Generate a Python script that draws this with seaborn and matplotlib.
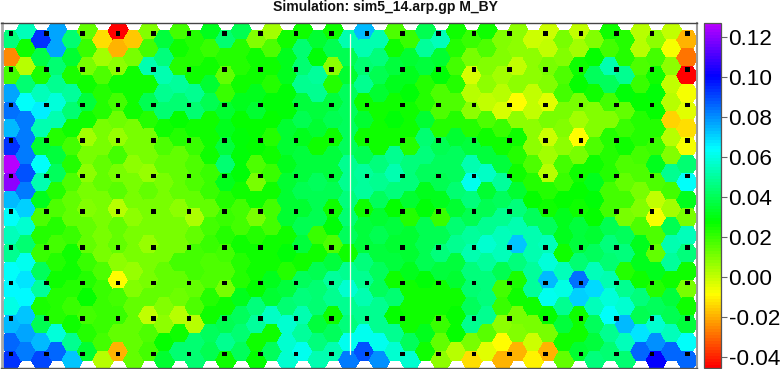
import matplotlib
matplotlib.use("Agg")
import matplotlib.pyplot as plt
from matplotlib.cm import ScalarMappable
from matplotlib.colors import ListedColormap, Normalize
import numpy as np
import pandas as pd
import seaborn as sns

sns.set_theme(style="white")
plt.rcParams["font.family"] = ["Liberation Sans", "DejaVu Sans"]

title = "Simulation: sim5_14.arp.gp M_BY"
tick_values = [-0.04, -0.02, 0.00, 0.02, 0.04, 0.06, 0.08, 0.10, 0.12]
tick_labels = ["-0.04", "-0.02", "0.00", "0.02", "0.04", "0.06", "0.08", "0.10", "0.12"]

# one list per hexagon column, top to bottom. odd columns sit half a row higher
col_00 = [.045, -.025, .018, .077, .084, .073, .093, .127, .120, .073, .063, .054, .048, .063, .065, .060, .074, .086, .093]
col_01 = [.054, .025, .002, .043, .063, .082, .082, .082, .088, .082, .070, .057, .043, .062, .068, .065, .072, .077, .082]
col_02 = [.093, .038, .024, .054, .066, .052, .034, .063, .052, .032, .016, .022, .020, .040, .050, .024, .039, .074, .090]
col_03 = [.077, .077, .043, .048, .059, .052, .023, .036, .040, .022, .016, .022, .018, .023, .025, .023, .023, .059, .086]
col_04 = [.043, .034, .024, .050, .043, .025, .018, .023, .016, .014, .014, .020, .025, .025, .023, .020, .025, .048, .072]
col_05 = [.013, .020, .011, .025, .036, .026, .004, .011, .007, .011, .009, .013, .014, .020, .023, .027, .018, .023, .034]
col_06 = [-.014, .004, .016, .023, .023, .011, .011, .013, .013, .010, .011, .010, .010, .016, .020, .020, .020, .018, .002]
col_07 = [-.045, -.020, .007, .025, .018, .012, .006, .018, .011, .015, .002, .013, .013, .008, -.009, .018, .020, .013, -.020]
col_08 = [-.017, .011, .025, .025, .025, .010, .010, .008, .011, .011, .008, .011, .011, .006, .009, .013, .013, .013, .013]
col_09 = [.009, .018, .052, .025, .039, .023, .010, .010, .006, .014, .010, .011, .006, .010, .010, .013, .000, .016, .018]
col_10 = [.036, .045, .052, .048, .043, .025, .016, .014, .011, .011, .010, .010, .011, .014, .014, .009, .007, .027, .034]
col_11 = [.018, .025, .023, .050, .043, .027, .023, .014, .014, .014, .008, .010, .011, .018, .014, .012, .002, .025, .043]
col_12 = [.023, .022, .025, .048, .043, .025, .020, .016, .016, .013, .003, .013, .018, .018, .014, .016, .002, .043, .043]
col_13 = [.032, .020, .025, .034, .039, .025, .025, .025, .020, .020, .013, .018, .020, .016, .016, .023, .025, .041, .039]
col_14 = [.043, .023, .013, .020, .034, .032, .036, .043, .032, .023, .020, .023, .018, .016, .011, .025, .039, .048, .025]
col_15 = [.039, .023, .023, .025, .032, .027, .029, .029, .029, .025, .018, .018, .025, .023, .023, .032, .041, .043, .041]
col_16 = [.009, .025, .025, .032, .034, .027, .027, .016, .011, .025, .011, .023, .025, .025, .027, .045, .050, .025, .027]
col_17 = [.004, .016, .025, .023, .029, .027, .023, .025, .020, .025, .018, .018, .025, .025, .032, .034, .055, .025, .041]
col_18 = [.025, .032, .032, .029, .029, .034, .034, .032, .034, .034, .034, .025, .029, .023, .036, .043, .057, .057, .057]
col_19 = [.025, .043, .043, .048, .036, .039, .032, .036, .036, .039, .034, .039, .036, .025, .041, .045, .052, .050, .061]
col_20 = [.034, .029, .050, .048, .036, .034, .025, .036, .041, .039, .039, .020, .025, .039, .043, .043, .036, .045, .052]
col_21 = [.025, .039, .007, .023, .036, .039, .025, .036, .036, .039, .025, .029, .016, .036, .050, .048, .025, .041, .052]
col_22 = [.052, .039, .034, .041, .041, .041, .041, .048, .048, .045, .043, .041, .025, .048, .057, .048, .045, .061, .082]
col_23 = [.074, .052, .043, .048, .025, .034, .025, .039, .050, .050, .025, .036, .036, .045, .048, .052, .048, .061, .088]
col_24 = [.052, .045, .039, .034, .025, .025, .025, .045, .048, .041, .034, .039, .036, .041, .041, .048, .048, .062, .079]
col_25 = [.016, .025, .036, .032, .025, .029, .025, .048, .052, .045, .027, .036, .034, .036, .025, .043, .027, .048, .057]
col_26 = [.020, .034, .032, .029, .025, .025, .023, .045, .045, .034, .023, .034, .034, .032, .025, .025, .025, .041, .057]
col_27 = [.039, .050, .036, .023, .023, .034, .043, .045, .041, .032, .029, .039, .039, .039, .029, .025, .025, .032, .025]
col_28 = [.054, .034, .029, .016, .016, .023, .039, .041, .039, .032, .020, .039, .045, .036, .025, .025, .020, .013, .007]
col_29 = [.025, .023, .018, .023, .016, .023, .034, .041, .041, .043, .034, .043, .048, .036, .034, .025, .027, .027, .002]
col_30 = [.020, .011, -.003, .002, .007, .023, .036, .052, .061, .045, .039, .050, .052, .045, .043, .041, .048, .011, -.013]
col_31 = [.025, .016, .009, .007, .000, .016, .025, .036, .055, .034, .039, .048, .057, .050, .045, .045, .048, .015, -.005]
col_32 = [.009, .009, .004, .002, -.003, .020, .025, .036, .050, .041, .048, .054, .054, .039, .018, .020, .007, -.009, -.020]
col_33 = [.007, .007, .000, .007, -.009, .007, .025, .022, .025, .034, .045, .052, .072, .045, .024, .025, .011, .009, -.020]
col_34 = [-.002, .007, .007, .000, .000, .007, .007, .016, .022, .027, .041, .052, .052, .050, .050, .025, .011, -.002, -.011]
col_35 = [-.002, .000, .011, .009, -.005, .011, -.002, .004, .002, .023, .025, .041, .054, .059, .074, .062, .027, .011, -.020]
col_36 = [.011, .009, .016, .018, .011, .009, .007, .018, .020, .027, .032, .032, .025, .054, .060, .048, .036, .025, .013]
col_37 = [.000, .004, .025, .027, .011, .004, -.009, .011, .025, .027, .025, .036, .036, .043, .084, .070, .025, .025, .034]
col_38 = [.009, .027, .041, .025, .009, .009, .016, .025, .032, .029, .027, .034, .041, .054, .069, .054, .041, .036, .045]
col_39 = [.025, .018, .052, .041, .018, .009, .023, .023, .023, .018, .018, .039, .045, .043, .052, .059, .063, .048, .043]
col_40 = [.023, .023, .048, .028, .013, .020, .025, .016, .013, .018, .011, .041, .045, .023, .048, .057, .073, .054, .043]
col_41 = [.002, .002, .016, .020, .027, .023, .023, .018, .016, .011, .009, .016, .032, .032, .025, .045, .039, .068, .086]
col_42 = [.007, .018, .025, .029, .027, .023, .020, .032, .016, .000, -.008, .016, .013, .032, .023, .041, .057, .079, .100]
col_43 = [.000, -.008, .007, .000, .002, -.015, .002, .009, .048, .018, .004, .039, .052, .050, .025, .036, .039, .054, .086]
col_44 = [-.020, -.028, -.045, -.007, -.005, -.014, -.008, .043, .063, .032, .011, .054, .045, .025, .011, .025, .036, .063, .086]

columns = [col_00, col_01, col_02, col_03, col_04, col_05, col_06, col_07, col_08, col_09,
           col_10, col_11, col_12, col_13, col_14, col_15, col_16, col_17, col_18, col_19,
           col_20, col_21, col_22, col_23, col_24, col_25, col_26, col_27, col_28, col_29,
           col_30, col_31, col_32, col_33, col_34, col_35, col_36, col_37, col_38, col_39,
           col_40, col_41, col_42, col_43, col_44]

rows = []
for i, col in enumerate(columns):
    for k, v in enumerate(col):
        rows.append({"x": i, "y": k - 0.5 * (i % 2), "value": v})
df = pd.DataFrame(rows)

# station marks: 20 across, 10 down
mark_x, mark_y = np.meshgrid(np.linspace(0, 44.03, 20), -0.354 + 2 * np.arange(10))
marks = pd.DataFrame({"x": mark_x.ravel(), "y": mark_y.ravel()})

vmin, vmax = -0.0455, 0.127
cmap = ListedColormap(sns.hls_palette(145, h=0, l=0.5, s=1)[:115])
norm = Normalize(vmin, vmax)

W, H = 783, 369
fig = plt.figure(figsize=(W / 100, H / 100), dpi=100)
ax = fig.add_axes([1.5 / W, 1 - 368 / H, 695 / W, 345 / H])
cax = fig.add_axes([703.5 / W, 1 - 368 / H, 17 / W, 345 / H])

sns.scatterplot(data=df, x="x", y="y", hue="value", palette=cmap, hue_norm=norm, marker="H", s=228,
                linewidth=0, edgecolor="none", antialiased=False, legend=False, ax=ax)
ax.plot([22.07, 22.07], [-0.354, 17.65], color="#f2fff2", lw=0.9, zorder=3)
sns.scatterplot(data=marks, x="x", y="y", color="black", marker="s", s=11,
                linewidth=0, edgecolor="none", antialiased=False, legend=False, zorder=4, ax=ax)

ax.set_xlim(-0.618, 44.6)
ax.set_ylim(18.43, -0.955)
ax.set(xlabel="", ylabel="", xticks=[], yticks=[])
ax.spines["top"].set(color="#444444", linewidth=1)
ax.spines["bottom"].set(color="#555555", linewidth=1)
ax.spines["left"].set(color="#a8a8a8", linewidth=2)
ax.spines["right"].set(color="#999999", linewidth=1.5)

cb = fig.colorbar(ScalarMappable(norm=norm, cmap=cmap), cax=cax)
cb.set_ticks(tick_values, labels=tick_labels)
cb.ax.tick_params(length=4, width=0.8, color="#666666", labelsize=16.2, labelcolor="black", pad=1.8, right=True)
cb.outline.set_edgecolor("#555555")
cb.outline.set_linewidth(0.9)

fig.text(385 / W, 1 - 7 / H, title, ha="center", va="center", fontsize=10.1, fontweight="bold", color="#111111")

fig.savefig("out.png", dpi=100)
